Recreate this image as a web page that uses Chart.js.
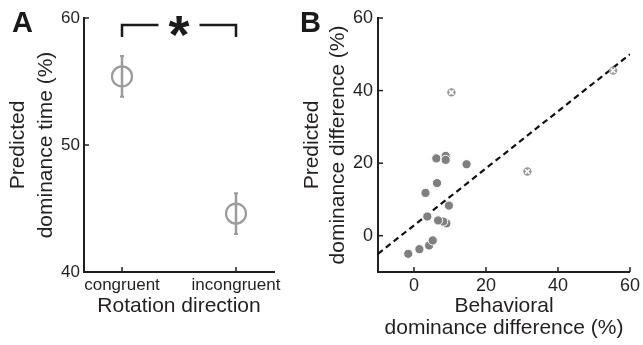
<!DOCTYPE html>
<html><head><meta charset="utf-8">
<script src="https://cdn.jsdelivr.net/npm/chart.js@4/dist/chart.umd.min.js"></script>
<style>
html,body{margin:0;padding:0;background:#fff;}
#wrap{position:relative;width:643px;height:345px;overflow:hidden;font-family:"Liberation Sans",Arial,Helvetica,sans-serif;}
.pane{position:absolute;top:0;height:345px;}
.lbl{position:absolute;font-weight:bold;font-size:29px;line-height:29px;color:#1a1a1a;}
</style></head><body>
<div id="wrap">
 <div class="pane" style="left:0;width:290px;"><canvas id="cA"></canvas></div>
 <div class="pane" style="left:290px;width:353px;"><canvas id="cB"></canvas></div>
 <div class="lbl" style="left:12px;top:8px">A</div>
 <div class="lbl" style="left:300px;top:8px">B</div>
</div>
<script>
// ---- Panel A data ----
const conditions = ['congruent', 'incongruent'];
const predictedMean = [55.4, 44.6];
const predictedErr = [1.6, 1.6];
const aYTicks = [40, 50, 60];
const sigLabel = '*';

// ---- Panel B data ----
const behavioralDiff = [-1.6, 1.5, 4.2, 5.2, 3.7, 9.0, 8.1, 6.7, 9.7, 3.2, 6.4, 6.2, 8.8, 8.8, 14.6];
const predictedDiff  = [-5.0, -3.7, -2.7, -1.3, 5.3, 3.4, 3.9, 4.2, 8.3, 11.8, 14.5, 21.3, 22.0, 20.9, 19.7];
const outlierBehavioral = [10.4, 31.5, 55.3];
const outlierPredicted  = [39.5, 17.7, 45.5];
const fitX = [-10, 60];
const fitY = [-5, 50];
const bTicks = [0, 20, 40, 60];

const axisColor = '#231f20';
const textColor = '#231f20';
Chart.defaults.font.family = '"Liberation Sans", Arial, Helvetica, sans-serif';
Chart.defaults.color = textColor;

const inwardTicks = {
  id: 'inwardTicks',
  afterDraw(chart) {
    const ctx = chart.ctx, ca = chart.chartArea;
    const xs = chart.scales.x, ys = chart.scales.y;
    ctx.save();
    ctx.strokeStyle = axisColor; ctx.lineWidth = 1.5;
    xs.ticks.forEach(t => {
      const px = xs.getPixelForValue(t.value);
      ctx.beginPath(); ctx.moveTo(px, ca.bottom); ctx.lineTo(px, ca.bottom - 5); ctx.stroke();
    });
    ys.ticks.forEach(t => {
      const py = ys.getPixelForValue(t.value);
      ctx.beginPath(); ctx.moveTo(ca.left, py); ctx.lineTo(ca.left + 5, py); ctx.stroke();
    });
    ctx.restore();
  }
};

const errorBars = {
  id: 'errorBars',
  beforeDatasetsDraw(chart) {
    const ctx = chart.ctx, xs = chart.scales.x, ys = chart.scales.y;
    ctx.save();
    ctx.strokeStyle = '#9b9b9b'; ctx.lineWidth = 2.5;
    predictedMean.forEach((m, i) => {
      const px = xs.getPixelForValue(i);
      const top = ys.getPixelForValue(m + predictedErr[i]);
      const bot = ys.getPixelForValue(m - predictedErr[i]);
      ctx.beginPath(); ctx.moveTo(px, top); ctx.lineTo(px, bot); ctx.stroke();
      ctx.lineWidth = 2;
      ctx.beginPath(); ctx.moveTo(px - 2, top); ctx.lineTo(px + 2, top);
      ctx.moveTo(px - 2, bot); ctx.lineTo(px + 2, bot); ctx.stroke();
      ctx.lineWidth = 2.5;
    });
    ctx.restore();
  }
};

const sigBracket = {
  id: 'sigBracket',
  afterDraw(chart) {
    const ctx = chart.ctx, xs = chart.scales.x, ys = chart.scales.y;
    const x0 = xs.getPixelForValue(0), x1 = xs.getPixelForValue(1);
    const yTop = ys.getPixelForValue(59.45), yBot = ys.getPixelForValue(58.5);
    const mid = (x0 + x1) / 2, gap = 20.5;
    ctx.save();
    ctx.strokeStyle = '#1a1a1a'; ctx.lineWidth = 2.5; ctx.lineCap = 'butt';
    ctx.beginPath();
    ctx.moveTo(x0, yBot); ctx.lineTo(x0, yTop); ctx.lineTo(mid - gap, yTop);
    ctx.moveTo(mid + gap, yTop); ctx.lineTo(x1, yTop); ctx.lineTo(x1, yBot);
    ctx.stroke();
    ctx.fillStyle = '#1a1a1a';
    ctx.font = 'bold 54px "Liberation Sans", Arial, sans-serif';
    ctx.textAlign = 'center'; ctx.textBaseline = 'alphabetic';
    ctx.fillText(sigLabel, mid, yTop + 28);
    ctx.restore();
  }
};

new Chart(document.getElementById('cA'), {
  type: 'scatter',
  data: { datasets: [{
    data: conditions.map((c, i) => ({ x: i, y: predictedMean[i] })),
    pointStyle: 'circle', pointRadius: 10, pointHoverRadius: 10,
    borderWidth: 2.2, pointBorderWidth: 2.2,
    borderColor: '#9b9b9b', pointBorderColor: '#9b9b9b',
    backgroundColor: 'rgba(0,0,0,0)', pointBackgroundColor: 'rgba(0,0,0,0)'
  }]},
  options: {
    responsive: true, maintainAspectRatio: false, animation: false, devicePixelRatio: 1,
    layout: { padding: { top: 18, right: 16, left: 0, bottom: 0 } },
    plugins: { legend: { display: false }, tooltip: { enabled: false } },
    events: [],
    scales: {
      x: {
        type: 'linear', min: -1/3, max: 4/3,
        afterBuildTicks: s => { s.ticks = conditions.map((c, i) => ({ value: i })); },
        afterFit: s => { s.height = 73; },
        grid: { display: false, drawTicks: false },
        border: { display: true, color: axisColor, width: 2 },
        ticks: { callback: v => conditions[v], font: { size: 17 }, color: textColor, padding: 3, maxRotation: 0, autoSkip: false },
        title: { display: true, text: 'Rotation direction', font: { size: 21 }, color: textColor, padding: { top: 0, bottom: 26 } }
      },
      y: {
        type: 'linear', min: 40, max: 60,
        afterBuildTicks: s => { s.ticks = aYTicks.map(v => ({ value: v })); },
        afterFit: s => { s.width = 84; },
        grid: { display: false, drawTicks: false },
        border: { display: true, color: axisColor, width: 2 },
        ticks: { font: { size: 17 }, color: textColor, padding: 4 },
        title: { display: true, text: ['Predicted', 'dominance time (%)'], font: { size: 21, lineHeight: 1.3 }, color: textColor, padding: { top: 5, bottom: 0 } }
      }
    }
  },
  plugins: [inwardTicks, errorBars, sigBracket]
});

new Chart(document.getElementById('cB'), {
  type: 'scatter',
  data: { datasets: [
    { data: outlierBehavioral.map((x, i) => ({ x, y: outlierPredicted[i] })),
      pointStyle: 'crossRot', pointRadius: 3.2, borderColor: '#ffffff', pointBorderColor: '#ffffff', pointBorderWidth: 1.6, borderWidth: 1.6, order: 0 },
    { data: outlierBehavioral.map((x, i) => ({ x, y: outlierPredicted[i] })),
      pointStyle: 'circle', pointRadius: 4.2, backgroundColor: '#999999', pointBackgroundColor: '#999999', borderWidth: 0, pointBorderWidth: 0, order: 1 },
    { data: behavioralDiff.map((x, i) => ({ x, y: predictedDiff[i] })),
      pointStyle: 'circle', pointRadius: 4.6, backgroundColor: '#7f7f7f', pointBackgroundColor: '#7f7f7f',
      borderColor: '#ffffff', pointBorderColor: '#ffffff', borderWidth: 1, pointBorderWidth: 1, order: 2 },
    { type: 'line', data: fitX.map((x, i) => ({ x, y: fitY[i] })), showLine: true,
      borderColor: '#111111', borderWidth: 2.2, borderDash: [6, 4], pointRadius: 0, fill: false, tension: 0, order: 3 }
  ]},
  options: {
    responsive: true, maintainAspectRatio: false, animation: false, devicePixelRatio: 1,
    layout: { padding: { top: 18, right: 11, left: 0, bottom: 0 } },
    plugins: { legend: { display: false }, tooltip: { enabled: false } },
    events: [],
    scales: {
      x: {
        type: 'linear', min: -10, max: 60,
        afterBuildTicks: s => { s.ticks = bTicks.map(v => ({ value: v })); },
        afterFit: s => { s.height = 73; },
        grid: { display: false, drawTicks: false },
        border: { display: true, color: axisColor, width: 2 },
        ticks: { font: { size: 18 }, color: textColor, padding: 3, maxRotation: 0, autoSkip: false },
        title: { display: true, text: ['Behavioral', 'dominance difference (%)'], font: { size: 21, lineHeight: 1.05 }, color: textColor, padding: { top: 0, bottom: 6 } }
      },
      y: {
        type: 'linear', min: -10, max: 60,
        afterBuildTicks: s => { s.ticks = bTicks.map(v => ({ value: v })); },
        afterFit: s => { s.width = 88; },
        grid: { display: false, drawTicks: false },
        border: { display: true, color: axisColor, width: 2 },
        ticks: { font: { size: 18 }, color: textColor, padding: 5 },
        title: { display: true, text: ['Predicted', 'dominance difference (%)'], font: { size: 21, lineHeight: 1.2 }, color: textColor, padding: { top: 10, bottom: 0 } }
      }
    }
  },
  plugins: [inwardTicks]
});
</script>
</body></html>
